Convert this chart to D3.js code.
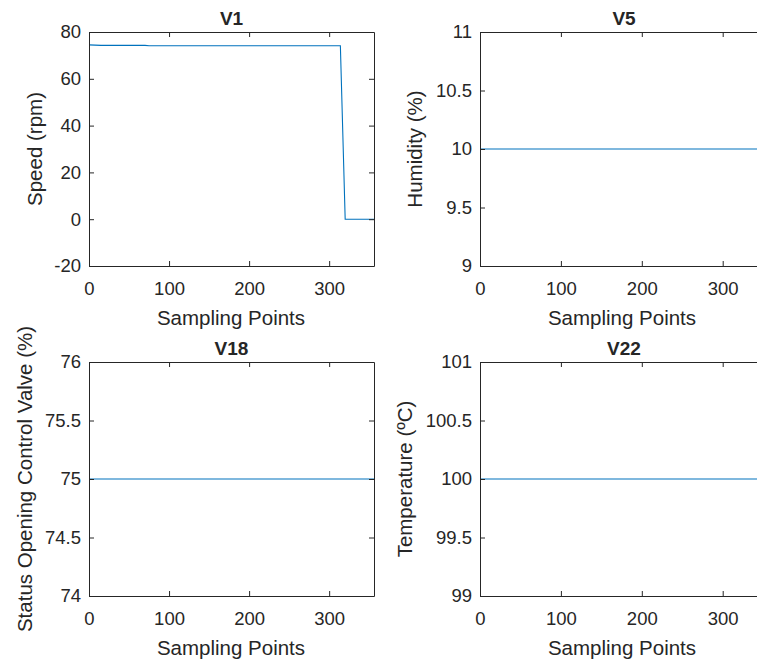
<!DOCTYPE html>
<html>
<head>
<meta charset="utf-8">
<script src="https://cdn.jsdelivr.net/npm/d3@7"></script>
<style>
  body { margin: 0; background: #fff; }
  svg { display: block; }
  text { font-family: "Liberation Sans", Arial, sans-serif; fill: #262626; }
</style>
</head>
<body>
<div id="wrapper"></div>
<script>
// sampling range shown on every x axis
const xDomain = [0, 356];
const xTicks = [0, 100, 200, 300];

// V1 speed (sample, rpm)
const v1Points = [[0, 74.5], [15, 74.3], [70, 74.3], [75, 74.1], [314, 74.1], [320, 0], [356, 0]];
// flat series
const v5Points = [[0, 10], [356, 10]];
const v18Points = [[0, 75], [356, 75]];
const v22Points = [[0, 100], [356, 100]];

const titles = ["V1", "V5", "V18", "V22"];
const yLabels = ["Speed (rpm)", "Humidity (%)", "Status Opening Control Valve (%)", "Temperature (ºC)"];
const yDomains = [[-20, 80], [9, 11], [74, 76], [99, 101]];
const yTickSets = [[-20, 0, 20, 40, 60, 80], [9, 9.5, 10, 10.5, 11], [74, 74.5, 75, 75.5, 76], [99, 99.5, 100, 100.5, 101]];
const series = [v1Points, v5Points, v18Points, v22Points];

const W = 757, H = 661;
const svg = d3.select("#wrapper").append("svg").attr("width", W).attr("height", H);

// panel boxes (left, top, width, height)
const panels = [
  {x: 89, y: 32, w: 285, h: 234, lab: 35},
  {x: 480, y: 32, w: 288, h: 234, lab: 415},
  {x: 89, y: 362, w: 285, h: 234, lab: 25},
  {x: 480, y: 362, w: 288, h: 234, lab: 405}
];

panels.forEach(function(p, i) {
  var g = svg.append("g").attr("transform", "translate(" + p.x + "," + p.y + ")");
  var x = d3.scaleLinear().domain(xDomain).range([0, p.w]);
  var y = d3.scaleLinear().domain(yDomains[i]).range([p.h, 0]);

  // the data line
  var line = d3.line().x(d => x(d[0])).y(d => y(d[1]));
  g.append("path").datum(series[i])
    .attr("d", line)
    .attr("fill", "none")
    .attr("stroke", "#0072BD")
    .attr("stroke-width", 1.1);

  // box + inward ticks on all four sides, matlab style
  var fmt = d => String(d);
  g.append("g").attr("transform", "translate(0," + p.h + ")")
    .call(d3.axisBottom(x).tickValues(xTicks).tickSizeInner(-5).tickSizeOuter(0).tickPadding(16).tickFormat(fmt))
    .call(s => s.selectAll("text").style("font-size", "18.5px"));
  g.append("g")
    .call(d3.axisTop(x).tickValues(xTicks).tickSizeInner(-5).tickSizeOuter(0).tickFormat(""));
  g.append("g")
    .call(d3.axisLeft(y).tickValues(yTickSets[i]).tickSizeInner(-5).tickSizeOuter(0).tickPadding(8).tickFormat(fmt))
    .call(s => s.selectAll("text").style("font-size", "18.5px"));
  g.append("g").attr("transform", "translate(" + p.w + ",0)")
    .call(d3.axisRight(y).tickValues(yTickSets[i]).tickSizeInner(-5).tickSizeOuter(0).tickFormat(""));
  g.selectAll(".domain").attr("stroke", "#262626");
  g.selectAll(".tick line").attr("stroke", "#262626");

  g.append("text")
    .attr("x", x(178)).attr("y", -7)
    .attr("text-anchor", "middle")
    .style("font-size", "19px").style("font-weight", "bold")
    .text(titles[i]);

  g.append("text")
    .attr("x", 142).attr("y", p.h + 59)
    .attr("text-anchor", "middle")
    .style("font-size", "20.5px")
    .text("Sampling Points");

  svg.append("text")
    .attr("transform", "translate(" + p.lab + "," + (p.y + p.h / 2) + ") rotate(-90)")
    .attr("text-anchor", "middle")
    .attr("dy", "0.35em")
    .style("font-size", "20.5px")
    .text(yLabels[i]);
});
</script>
</body>
</html>
